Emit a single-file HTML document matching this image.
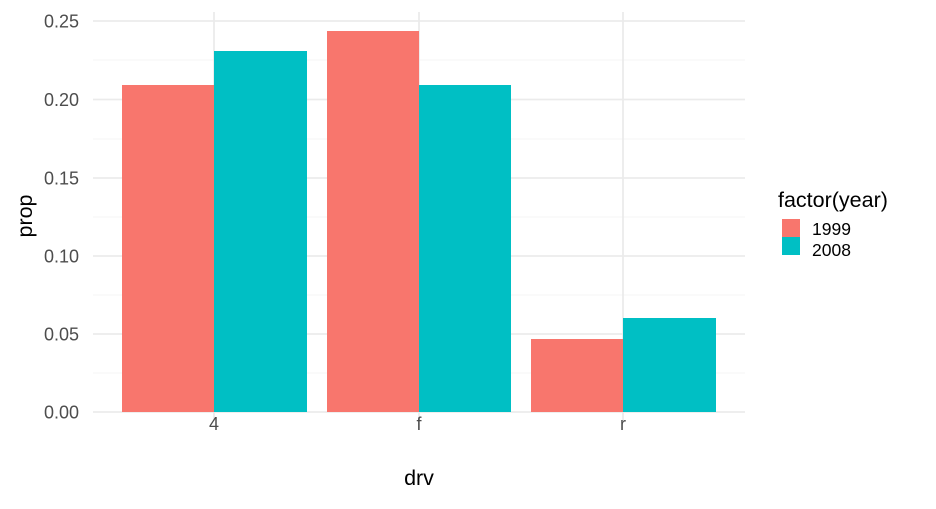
<!DOCTYPE html>
<html><head><meta charset="utf-8"><style>body{margin:0;background:#fff}</style></head><body>
<svg width="936" height="504" xmlns="http://www.w3.org/2000/svg" font-family="Liberation Sans, sans-serif">
<rect width="936" height="504" fill="#fff"/>
<g stroke="#ebebeb" stroke-width="0.6">
<line x1="93" x2="745" y1="373" y2="373"/><line x1="93" x2="745" y1="295" y2="295"/>
<line x1="93" x2="745" y1="217" y2="217"/><line x1="93" x2="745" y1="139" y2="139"/>
<line x1="93" x2="745" y1="60" y2="60"/>
</g>
<g stroke="#ebebeb" stroke-width="1.8">
<line x1="93" x2="745" y1="412" y2="412"/><line x1="93" x2="745" y1="334" y2="334"/>
<line x1="93" x2="745" y1="256" y2="256"/><line x1="93" x2="745" y1="178" y2="178"/>
<line x1="93" x2="745" y1="99.5" y2="99.5"/><line x1="93" x2="745" y1="21" y2="21"/>
<line x1="214" x2="214" y1="12" y2="421"/><line x1="419" x2="419" y1="12" y2="421"/>
<line x1="623" x2="623" y1="12" y2="421"/>
</g>
<g fill="#f8766d">
<rect x="122" y="85" width="92" height="327"/><rect x="327" y="31" width="92" height="381"/><rect x="531" y="339" width="92" height="73"/>
</g>
<g fill="#00bfc4">
<rect x="214" y="51" width="93" height="361"/><rect x="419" y="85" width="92" height="327"/><rect x="623" y="318" width="93" height="94"/>
</g>
<g fill="#4d4d4d" font-size="18" text-anchor="end">
<text x="79" y="418.5">0.00</text><text x="79" y="340.5">0.05</text><text x="79" y="262.5">0.10</text>
<text x="79" y="184.5">0.15</text><text x="79" y="106">0.20</text><text x="79" y="27.5">0.25</text>
</g>
<g fill="#4d4d4d" font-size="18" text-anchor="middle">
<text x="214" y="430">4</text><text x="419" y="430">f</text><text x="623" y="430">r</text>
</g>
<text x="419" y="485" font-size="21.5" text-anchor="middle">drv</text>
<text transform="translate(32,216) rotate(-90)" font-size="21.5" text-anchor="middle">prop</text>
<text x="778" y="207" font-size="21.5">factor(year)</text>
<rect x="782" y="219" width="18" height="18" fill="#f8766d"/>
<rect x="782" y="237" width="18" height="18" fill="#00bfc4"/>
<text x="812" y="235" font-size="17.5">1999</text>
<text x="812" y="256" font-size="17.5">2008</text>
</svg>
</body></html>
